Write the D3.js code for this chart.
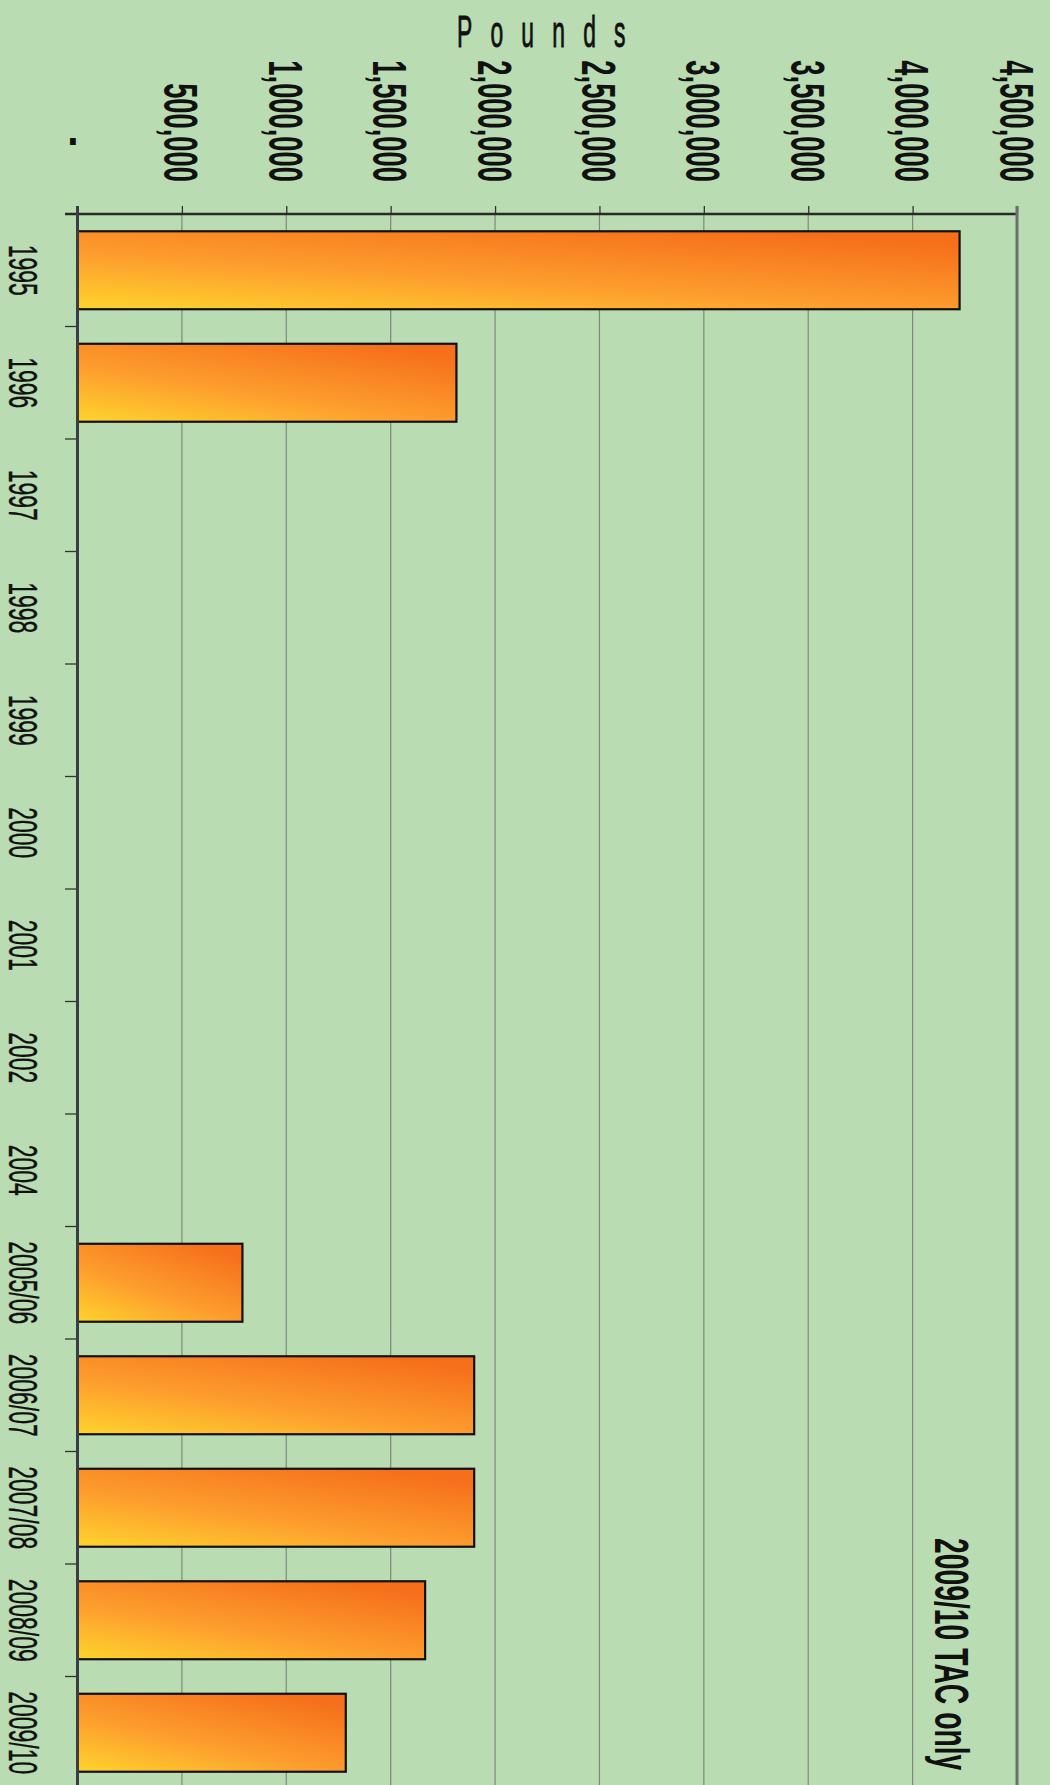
<!DOCTYPE html>
<html>
<head>
<meta charset="utf-8">
<script src="https://cdn.jsdelivr.net/npm/d3@7"></script>
<style>
  html, body { margin: 0; padding: 0; background: #b9dcb3; }
  svg { display: block; }
  text { font-family: "Liberation Sans", Arial, sans-serif; fill: #111; }
</style>
</head>
<body>
<script>
// Landings by season, in pounds (empty seasons have no bar)
const categories = ["1995", "1996", "1997", "1998", "1999", "2000", "2001", "2002", "2004",
                    "2005/06", "2006/07", "2007/08", "2008/09", "2009/10"];
const pounds = [4225000, 1815000, null, null, null, null, null, null, null,
                790000, 1900000, 1900000, 1665000, 1285000];
const tickValues = [0, 500000, 1000000, 1500000, 2000000, 2500000, 3000000, 3500000, 4000000, 4500000];
const axisTitle = "Pounds";
const note = "2009/10 TAC only";

const W = 1050, H = 1785;
const svg = d3.select("body").append("svg").attr("width", W).attr("height", H);

// value axis runs left→right along the top, seasons run top→bottom
const x = d3.scaleLinear().domain([0, 4500000]).range([77.5, 1017]);
const y = d3.scaleBand().domain(categories).range([214, 1789])
  .paddingInner(0.307).paddingOuter(0.1535);

const defs = svg.append("defs");
const grad = defs.append("linearGradient").attr("id", "barFill")
  .attr("x1", 0).attr("y1", 1).attr("x2", 0.75).attr("y2", 0);
grad.append("stop").attr("offset", 0).attr("stop-color", "#ffd42c");
grad.append("stop").attr("offset", 0.45).attr("stop-color", "#fd9e2e");
grad.append("stop").attr("offset", 1).attr("stop-color", "#f6701b");

const plotTop = y.range()[0], plotBottom = y.range()[1];

// gridlines
svg.append("g").selectAll("line").data(tickValues.filter(d => d > 0 && d < 4500000)).join("line")
  .attr("x1", d => x(d)).attr("x2", d => x(d))
  .attr("y1", plotTop).attr("y2", plotBottom)
  .attr("stroke", "#7e8a7c").attr("stroke-width", 1.2);

// value axis (top)
const xAxis = d3.axisTop(x).tickValues(tickValues).tickSize(8).tickFormat("");
const gx = svg.append("g").attr("transform", `translate(0,${plotTop})`).call(xAxis);
gx.select(".domain").remove();
gx.selectAll(".tick line").attr("stroke", "#333").attr("stroke-width", 1.3);
svg.append("line").attr("x1", 65).attr("x2", x(4500000)).attr("y1", plotTop).attr("y2", plotTop)
  .attr("stroke", "#2a2a2a").attr("stroke-width", 2.5);

// right frame edge
svg.append("line").attr("x1", x(4500000)).attr("x2", x(4500000))
  .attr("y1", plotTop - 8).attr("y2", plotBottom)
  .attr("stroke", "#6c6f6c").attr("stroke-width", 3);

// tick labels, rotated
const fmt = d3.format(",");
svg.append("g").selectAll("text").data(tickValues).join("text")
  .attr("transform", d => `translate(${x(d) - 17.5},182) rotate(90) scale(0.57,1)`)
  .attr("text-anchor", "end")
  .attr("font-size", 48).attr("font-weight", "bold")
  .text(d => d === 0 ? "-\u2007\u2007\u2009" : fmt(d));

// axis title
svg.append("text")
  .attr("transform", "translate(457,47) scale(0.52,1)")
  .attr("font-size", 44).attr("letter-spacing", 35)
  .attr("stroke", "#111").attr("stroke-width", 0.9)
  .text(axisTitle);

// bars
const rows = categories.map((c, i) => ({ c, v: pounds[i] })).filter(d => d.v != null);
svg.append("g").selectAll("rect").data(rows).join("rect")
  .attr("x", x(0)).attr("y", d => y(d.c))
  .attr("width", d => x(d.v) - x(0)).attr("height", y.bandwidth())
  .attr("fill", "url(#barFill)")
  .attr("stroke", "#151010").attr("stroke-width", 2.2);

// category axis (left)
const step = y.step();
const boundaries = d3.range(1, categories.length).map(k => plotTop + k * step);
svg.append("g").selectAll("line").data(boundaries).join("line")
  .attr("x1", 65).attr("x2", x(0)).attr("y1", d => d).attr("y2", d => d)
  .attr("stroke", "#333").attr("stroke-width", 1.3);
svg.append("line").attr("x1", x(0)).attr("x2", x(0)).attr("y1", plotTop - 8).attr("y2", plotBottom)
  .attr("stroke", "#3a3d44").attr("stroke-width", 3);

// season labels, rotated
svg.append("g").selectAll("text").data(categories).join("text")
  .attr("transform", d => `translate(9,${y(d) + y.bandwidth() / 2}) rotate(90) scale(0.56,1)`)
  .attr("text-anchor", "middle")
  .attr("font-size", 41)
  .attr("stroke", "#111").attr("stroke-width", 0.4)
  .text(d => d);

// note
svg.append("text")
  .attr("transform", `translate(${x(4500000) - 82},1538) rotate(90) scale(0.59,1)`)
  .attr("font-size", 48).attr("font-weight", "bold")
  .text(note);
</script>
</body>
</html>
